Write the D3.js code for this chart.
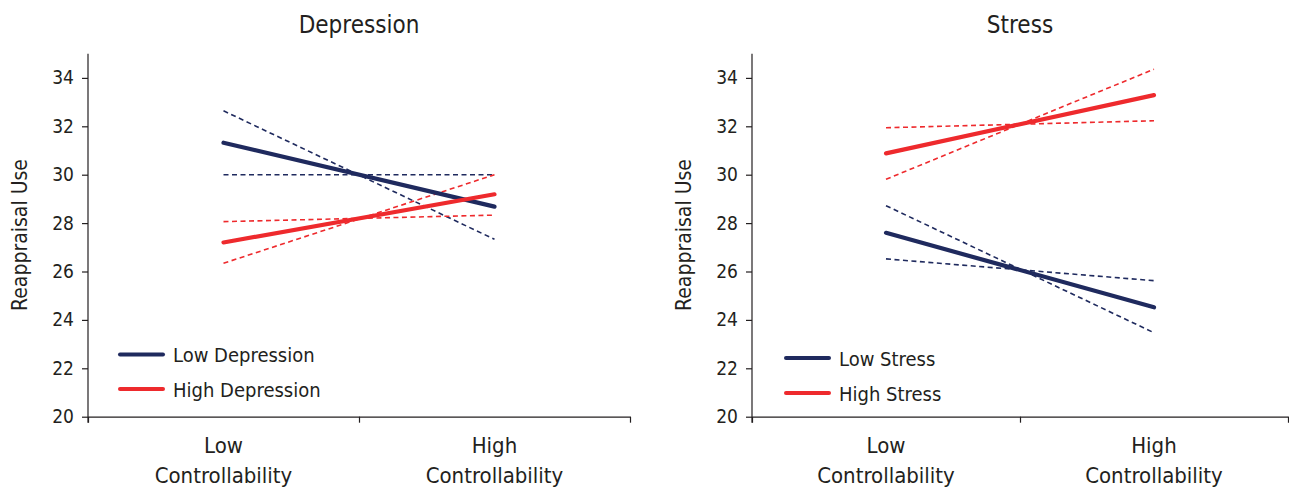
<!DOCTYPE html>
<html lang="en">
<head>
  <meta charset="UTF-8">
  <title>Reappraisal Use by Controllability</title>
  <style>
    body { margin: 0; background: #fff; }
    svg text {
      font-family: "Liberation Sans Narrow", "Arial Narrow", "DejaVu Sans Condensed", sans-serif;
      fill: #231f20;
    }
    .domain, .tick line { stroke: #231f20; stroke-width: 1.2px; }
  </style>
</head>
<body>
  <div id="chart"></div>
  <script src="https://cdn.jsdelivr.net/npm/d3@7"></script>
  <script>
    // categories and tick values
    const categories = ["Low Controllability", "High Controllability"];
    const categoryLines = [["Low", "Controllability"], ["High", "Controllability"]];
    const yTicks = [20, 22, 24, 26, 28, 30, 32, 34];

    // Depression panel
    const depLowMean = [31.32, 28.68];
    const depLowDashA = [32.64, 27.33];
    const depLowDashB = [30.0, 30.0];
    const depHighMean = [27.2, 29.19];
    const depHighDashA = [28.06, 28.33];
    const depHighDashB = [26.34, 30.0];

    // Stress panel
    const strLowMean = [27.6, 24.52];
    const strLowDashA = [28.72, 23.47];
    const strLowDashB = [26.52, 25.62];
    const strHighMean = [30.88, 33.29];
    const strHighDashA = [31.94, 32.23];
    const strHighDashB = [29.81, 34.36];

    const navy = "#1f2a5e";
    const red = "#ee2a2d";

    const svg = d3.select("#chart").append("svg")
      .attr("width", 1289)
      .attr("height", 489);

    function drawPanel(p) {
      const g = svg.append("g");

      const x = d3.scaleBand()
        .domain(categories)
        .range([p.x0, p.x1]);

      const y = d3.scaleLinear()
        .domain([20, 35])
        .range([416.7, 53.7]);

      // x axis: ticks on band boundaries, no labels
      const xEdges = d3.scaleLinear().domain([0, 2]).range([p.x0, p.x1]);
      g.append("g")
        .attr("transform", "translate(0,416.7)")
        .call(d3.axisBottom(xEdges).tickValues([0, 1, 2]).tickSize(6).tickSizeOuter(0).tickFormat(""));

      // y axis
      g.append("g")
        .attr("transform", `translate(${p.x0},0)`)
        .call(d3.axisLeft(y).tickValues(yTicks).tickSize(6).tickSizeOuter(0).tickPadding(8))
        .call(a => a.selectAll("text").style("font-size", "19px"))
        .call(a => a.select(".domain").attr("d", `M0,${y(35)}V${416.7 + 6}`));

      // category labels, two lines each
      categories.forEach((c, i) => {
        const t = g.append("text")
          .attr("text-anchor", "middle")
          .style("font-size", "22px");
        categoryLines[i].forEach((ln, j) => {
          t.append("tspan")
            .attr("x", x(c) + x.bandwidth() / 2)
            .attr("y", 453 + j * 30)
            .text(ln);
        });
      });

      // title
      g.append("text")
        .attr("x", (p.x0 + p.x1) / 2)
        .attr("y", 33)
        .attr("text-anchor", "middle")
        .style("font-size", "24px")
        .text(p.title);

      // y axis title
      g.append("text")
        .attr("transform", `translate(${p.yTitleX},235) rotate(-90)`)
        .attr("text-anchor", "middle")
        .style("font-size", "21px")
        .text("Reappraisal Use");

      const line = d3.line()
        .x((d, i) => x(categories[i]) + x.bandwidth() / 2)
        .y(d => y(d));

      p.series.forEach(s => {
        g.append("path")
          .datum(s.values)
          .attr("d", line)
          .attr("fill", "none")
          .attr("stroke", s.color)
          .attr("stroke-width", s.dashed ? 1.6 : 4.2)
          .attr("stroke-dasharray", s.dashed ? "5,3.5" : null)
          .attr("stroke-linecap", s.dashed ? "butt" : "round");
      });

      // legend
      p.legend.forEach((l, i) => {
        const ly = p.legendY + i * p.legendStep;
        g.append("line")
          .attr("x1", p.legendX).attr("x2", p.legendX + 43)
          .attr("y1", ly).attr("y2", ly)
          .attr("stroke", l.color)
          .attr("stroke-width", 4)
          .attr("stroke-linecap", "round");
        g.append("text")
          .attr("x", p.legendX + 53)
          .attr("y", ly + 7.5)
          .style("font-size", "20px")
          .text(l.name);
      });
    }

    drawPanel({
      title: "Depression",
      x0: 88, x1: 630, yTitleX: 27,
      legendX: 120, legendY: 354.5, legendStep: 34.5,
      legend: [{ name: "Low Depression", color: navy }, { name: "High Depression", color: red }],
      series: [
        { values: depLowDashA, color: navy, dashed: true },
        { values: depLowDashB, color: navy, dashed: true },
        { values: depHighDashA, color: red, dashed: true },
        { values: depHighDashB, color: red, dashed: true },
        { values: depLowMean, color: navy, dashed: false },
        { values: depHighMean, color: red, dashed: false }
      ]
    });

    drawPanel({
      title: "Stress",
      x0: 752, x1: 1288, yTitleX: 691,
      legendX: 786, legendY: 358, legendStep: 35,
      legend: [{ name: "Low Stress", color: navy }, { name: "High Stress", color: red }],
      series: [
        { values: strLowDashA, color: navy, dashed: true },
        { values: strLowDashB, color: navy, dashed: true },
        { values: strHighDashA, color: red, dashed: true },
        { values: strHighDashB, color: red, dashed: true },
        { values: strLowMean, color: navy, dashed: false },
        { values: strHighMean, color: red, dashed: false }
      ]
    });
  </script>
</body>
</html>
